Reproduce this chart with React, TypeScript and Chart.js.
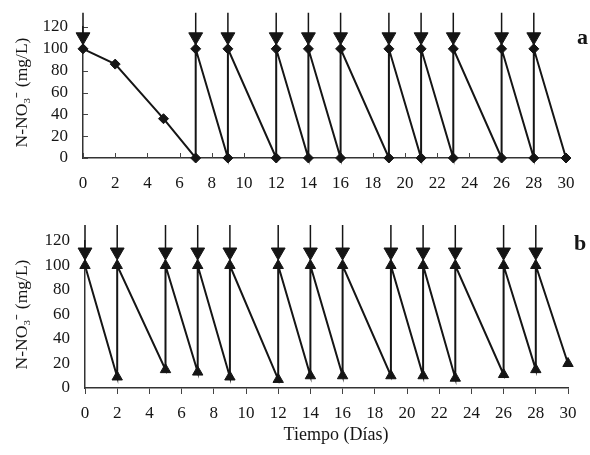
import React, { useEffect, useRef } from "react";
import { Chart, registerables } from "chart.js";

Chart.register(...registerables);

// ---- data ----
const daysA = [0, 2, 5, 7, 7, 9, 9, 12, 12, 14, 14, 16, 16, 19, 19, 21, 21, 23, 23, 26, 26, 28, 28, 30];
const nitrateA = [100, 86, 36, 0, 100, 0, 100, 0, 100, 0, 100, 0, 100, 0, 100, 0, 100, 0, 100, 0, 100, 0, 100, 0];
const additionDaysA = [0, 7, 9, 12, 14, 16, 19, 21, 23, 26, 28];

const daysB = [0, 2, 2, 5, 5, 7, 7, 9, 9, 12, 12, 14, 14, 16, 16, 19, 19, 21, 21, 23, 23, 26, 26, 28, 28, 30];
const nitrateB = [100, 9, 100, 15, 100, 13, 100, 9, 100, 7, 100, 10, 100, 10, 100, 10, 100, 10, 100, 8, 100, 11, 100, 15, 100, 20];
const additionDaysB = [0, 2, 5, 7, 9, 12, 14, 16, 19, 21, 23, 26, 28];

const yTickValues = [0, 20, 40, 60, 80, 100, 120];
const xTickValues = [0, 2, 4, 6, 8, 10, 12, 14, 16, 18, 20, 22, 24, 26, 28, 30];
const arrowTailLevel = 133;
const arrowHeadLevel = 111;

const yTitle = "N-NO\u2083\u207B (mg/L)";
const xTitle = "Tiempo (Días)";

const FONT = "'Liberation Serif', 'Times New Roman', serif";
const INK = "#151515";

const innerTicks = {
  id: "innerTicks",
  beforeDatasetsDraw(chart: any, _args: any, opts: any) {
    if (!opts || !opts.enabled) return;
    const { ctx, chartArea, scales } = chart;
    const x = scales.x;
    const y = scales.y;
    ctx.save();
    ctx.strokeStyle = "#444";
    ctx.lineWidth = 1;
    x.ticks.forEach((t: any) => {
      const px = Math.round(x.getPixelForValue(t.value)) + 0.5;
      ctx.beginPath();
      ctx.moveTo(px, chartArea.bottom);
      ctx.lineTo(px, chartArea.bottom - 5);
      ctx.stroke();
    });
    y.ticks.forEach((t: any) => {
      const py = Math.round(y.getPixelForValue(t.value)) + 0.5;
      ctx.beginPath();
      ctx.moveTo(chartArea.left, py);
      ctx.lineTo(chartArea.left + 5, py);
      ctx.stroke();
    });
    ctx.restore();
  },
};

function zip(xs: number[], ys: number[]) {
  return xs.map((x, i) => ({ x, y: ys[i] }));
}

function arrowShafts(days: number[]) {
  const pts: any[] = [];
  days.forEach((d) => {
    pts.push({ x: d, y: arrowTailLevel });
    pts.push({ x: d, y: arrowHeadLevel });
    pts.push({ x: d, y: null });
  });
  return pts;
}

function makeConfig(opts: {
  days: number[];
  values: number[];
  additions: number[];
  marker: string;
  markerRadius: number;
  yWidth: number;
  xHeight: number;
  padTop: number;
  padRight: number;
  outerXTicks: boolean;
}): any {
  return {
    type: "scatter",
    data: {
      datasets: [
        {
          data: zip(opts.days, opts.values),
          showLine: true,
          borderColor: INK,
          borderWidth: 2,
          backgroundColor: INK,
          pointBackgroundColor: INK,
          pointBorderColor: INK,
          pointStyle: opts.marker,
          pointRadius: opts.markerRadius,
          pointBorderWidth: 1,
          clip: false,
        },
        {
          data: arrowShafts(opts.additions),
          showLine: true,
          spanGaps: false,
          borderColor: INK,
          borderWidth: 1.5,
          pointRadius: 0,
          clip: false,
        },
        {
          data: opts.additions.map((d) => ({ x: d, y: arrowHeadLevel })),
          showLine: false,
          pointStyle: "triangle",
          rotation: 180,
          pointRadius: 8,
          pointBackgroundColor: INK,
          pointBorderColor: INK,
          pointBorderWidth: 1,
          clip: false,
        },
      ],
    },
    options: {
      animation: false,
      responsive: false,
      events: [],
      layout: { padding: { left: 0, right: opts.padRight, top: opts.padTop, bottom: 0 } },
      plugins: {
        legend: { display: false },
        tooltip: { enabled: false },
        innerTicks: { enabled: !opts.outerXTicks },
      },
      scales: {
        x: {
          type: "linear",
          min: 0,
          max: 30,
          afterFit: (s: any) => {
            s.height = opts.xHeight;
          },
          afterBuildTicks: (s: any) => {
            s.ticks = xTickValues.map((v) => ({ value: v }));
          },
          grid: {
            display: true,
            drawOnChartArea: false,
            drawTicks: opts.outerXTicks,
            tickLength: 6,
            color: "#444",
          },
          border: { display: true, color: "#333", width: 1.5 },
          ticks: {
            color: INK,
            padding: opts.outerXTicks ? 9 : 15,
            maxRotation: 0,
            autoSkip: false,
            font: { family: FONT, size: 17 },
          },
        },
        y: {
          type: "linear",
          min: 0,
          max: 120,
          afterFit: (s: any) => {
            s.width = opts.yWidth;
          },
          afterBuildTicks: (s: any) => {
            s.ticks = yTickValues.map((v) => ({ value: v }));
          },
          grid: { display: true, drawOnChartArea: false, drawTicks: false },
          border: { display: true, color: "#333", width: 1.5 },
          ticks: {
            color: INK,
            padding: 15,
            autoSkip: false,
            font: { family: FONT, size: 17 },
          },
          title: {
            display: true,
            text: yTitle,
            color: INK,
            padding: { top: 12, bottom: 0 },
            font: { family: FONT, size: 17.5 },
          },
        },
      },
    },
    plugins: [innerTicks],
  };
}

function Panel(props: { config: any; width: number; height: number; top: number }) {
  const ref = useRef<HTMLCanvasElement | null>(null);
  useEffect(() => {
    if (!ref.current) return;
    const chart = new Chart(ref.current, props.config);
    return () => chart.destroy();
  }, []);
  return (
    <canvas
      ref={ref}
      width={props.width}
      height={props.height}
      style={{ position: "absolute", left: 0, top: props.top, width: props.width, height: props.height }}
    />
  );
}

export default function App() {
  const configA = makeConfig({
    days: daysA,
    values: nitrateA,
    additions: additionDaysA,
    marker: "rectRot",
    markerRadius: 5,
    yWidth: 83,
    xHeight: 47,
    padTop: 27,
    padRight: 24,
    outerXTicks: false,
  });
  const configB = makeConfig({
    days: daysB,
    values: nitrateB,
    additions: additionDaysB,
    marker: "triangle",
    markerRadius: 6,
    yWidth: 85,
    xHeight: 67,
    padTop: 36,
    padRight: 22,
    outerXTicks: true,
  });
  const labelStyle: React.CSSProperties = {
    position: "absolute",
    fontFamily: FONT,
    fontWeight: "bold",
    fontSize: 22,
    color: INK,
    lineHeight: "22px",
  };
  return (
    <div style={{ position: "fixed", left: 0, top: 0, width: 590, height: 455, background: "#fff", overflow: "hidden" }}>
      <Panel config={configA} width={590} height={205} top={0} />
      <Panel config={configB} width={590} height={250} top={205} />
      <div style={{ ...labelStyle, left: 577, top: 26 }}>a</div>
      <div style={{ ...labelStyle, left: 574, top: 232 }}>b</div>
      <div
        style={{
          position: "absolute",
          left: 236,
          width: 200,
          top: 423,
          textAlign: "center",
          fontFamily: FONT,
          fontSize: 18,
          color: INK,
          lineHeight: "22px",
        }}
      >
        {xTitle}
      </div>
    </div>
  );
}
